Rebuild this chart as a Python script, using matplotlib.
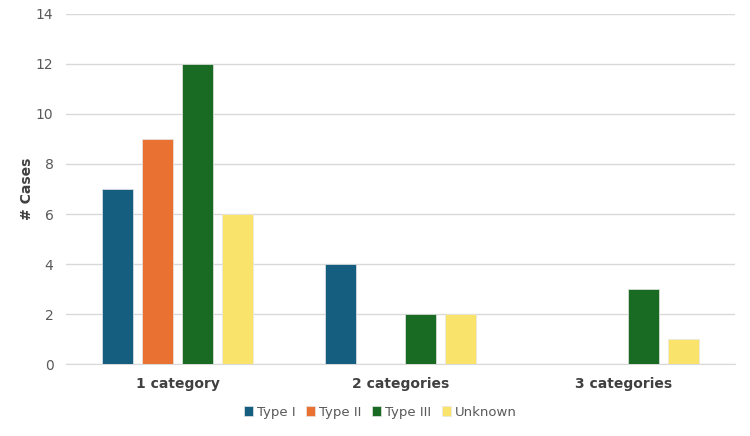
import numpy as np
import matplotlib.pyplot as plt

categories = ['1 category', '2 categories', '3 categories']
series = ['Type I', 'Type II', 'Type III', 'Unknown']
type_1 = [7, 4, 0]
type_2 = [9, 0, 0]
type_3 = [12, 2, 3]
unknown = [6, 2, 1]
colors = ['#155E80', '#E97132', '#196B24', '#FAE36A']

fig = plt.figure(figsize=(7.5, 4.36), dpi=100)
ax = fig.add_axes([0.088, 0.165, 0.892, 0.803])

x = np.arange(len(categories))
width = 0.14
step = 0.18
for i, (name, vals) in enumerate(zip(series, [type_1, type_2, type_3, unknown])):
    ax.bar(x + (i - 1.5) * step, vals, width, color=colors[i], label=name,
           edgecolor='#e6e6e6', linewidth=0.5, zorder=3)

ax.set_xlim(-0.5, 2.5)
ax.set_ylim(0, 14)
ax.set_yticks(range(0, 15, 2))
ax.set_xticks(x)
ax.set_xticklabels(categories, fontweight='bold', fontsize=10, color='#404040')
ax.tick_params(axis='y', labelsize=10, labelcolor='#595959', length=0, pad=9)
ax.tick_params(axis='x', length=0, pad=9)
ax.grid(axis='y', color='#d9d9d9', linewidth=1, zorder=0)
for s in ['top', 'right', 'left']:
    ax.spines[s].set_visible(False)
ax.spines['bottom'].set_color('#d9d9d9')
ax.set_ylabel('# Cases', fontweight='bold', fontsize=10, color='#404040', labelpad=1)

ax.legend(loc='upper center', bbox_to_anchor=(0.47, -0.085), ncol=4, frameon=False,
          handlelength=0.7, handleheight=0.7, handletextpad=0.3, columnspacing=0.8,
          fontsize=9.5, labelcolor='#595959')

fig.savefig('out.png', dpi=100)
